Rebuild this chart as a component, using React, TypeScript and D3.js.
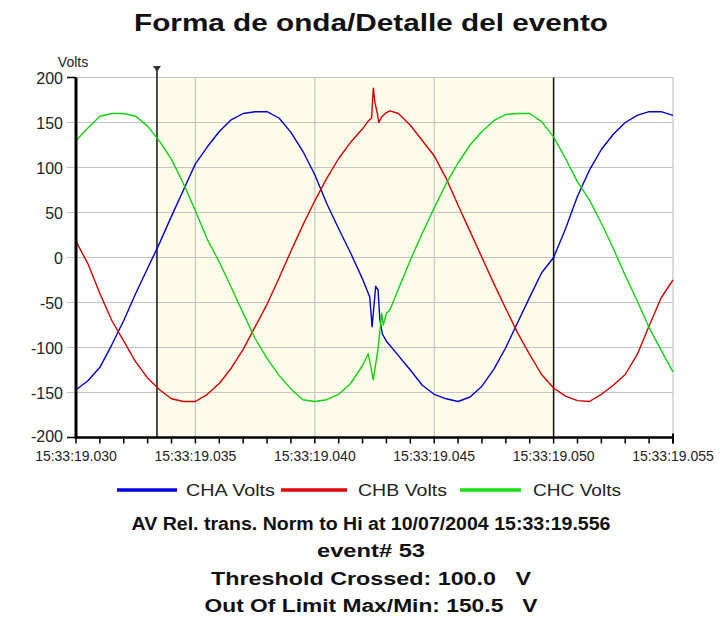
import React from "react";
import * as d3 from "d3";

// ---- data (time in ms after 15:33:19.000, value in volts) ----
const chaVolts: [number, number][] = [
  [30.0, -147], [30.5, -137], [31.0, -122], [31.5, -97], [32.0, -70], [32.5, -40],
  [33.0, -12], [33.5, 16], [34.0, 46], [34.5, 75], [35.0, 104], [35.5, 123],
  [36.0, 140], [36.5, 153], [37.0, 160], [37.5, 162], [38.0, 162], [38.5, 155],
  [39.0, 139], [39.5, 118], [40.0, 92], [40.5, 60], [41.0, 32], [41.5, 5],
  [42.0, -24], [42.3, -44], [42.4, -77], [42.55, -32], [42.65, -36], [42.72, -68],
  [42.83, -85], [43.0, -93], [43.5, -109], [44.0, -125], [44.5, -142], [45.0, -152],
  [45.5, -157], [46.0, -160], [46.5, -155], [47.0, -143], [47.5, -124], [48.0, -100],
  [48.5, -72], [49.0, -44], [49.5, -17], [50.0, 0], [50.5, 32], [51.0, 68],
  [51.5, 97], [52.0, 120], [52.5, 137], [53.0, 150], [53.5, 158], [54.0, 162],
  [54.5, 162], [55.0, 158],
];

const chbVolts: [number, number][] = [
  [30.0, 18], [30.5, -7], [31.0, -40], [31.5, -70], [32.0, -93], [32.5, -116],
  [33.0, -134], [33.5, -147], [34.0, -157], [34.5, -160], [35.0, -160], [35.5, -152],
  [36.0, -140], [36.5, -123], [37.0, -102], [37.5, -77], [38.0, -52], [38.5, -23],
  [39.0, 7], [39.5, 36], [40.0, 63], [40.5, 88], [41.0, 110], [41.5, 128],
  [42.0, 143], [42.25, 152], [42.38, 155], [42.45, 188], [42.52, 172], [42.62, 160],
  [42.68, 150], [42.8, 156], [43.0, 161], [43.15, 163], [43.5, 160], [44.0, 147],
  [44.5, 130], [45.0, 113], [45.5, 88], [46.0, 58], [46.5, 29], [47.0, 0],
  [47.5, -29], [48.0, -57], [48.5, -84], [49.0, -108], [49.5, -130], [50.0, -145],
  [50.5, -154], [51.0, -159], [51.5, -160], [52.0, -152], [52.5, -142], [53.0, -130],
  [53.5, -108], [54.0, -76], [54.5, -45], [55.0, -25],
];

const chcVolts: [number, number][] = [
  [30.0, 130], [30.5, 144], [31.0, 157], [31.5, 160], [32.0, 160], [32.5, 157],
  [33.0, 146], [33.5, 129], [34.0, 109], [34.5, 82], [35.0, 52], [35.5, 20],
  [36.0, -5], [36.5, -33], [37.0, -62], [37.5, -90], [38.0, -112], [38.5, -131],
  [39.0, -146], [39.5, -158], [40.0, -160], [40.5, -158], [41.0, -152], [41.5, -140],
  [42.0, -120], [42.24, -107], [42.45, -136], [42.66, -99], [42.8, -62], [42.87, -75],
  [43.0, -62], [43.15, -58], [43.5, -35], [44.0, -3], [44.5, 27], [45.0, 55],
  [45.5, 82], [46.0, 105], [46.5, 125], [47.0, 140], [47.5, 152], [48.0, 159],
  [48.5, 160], [49.0, 160], [49.5, 151], [50.0, 134], [50.5, 110], [51.0, 84],
  [51.5, 64], [52.0, 38], [52.5, 10], [53.0, -20], [53.5, -48], [54.0, -78],
  [54.5, -103], [55.0, -127],
];

const seriesNames = ["CHA Volts", "CHB Volts", "CHC Volts"];
const seriesColors = ["#0000c8", "#d00000", "#10d010"];
const legendColors = ["#0000e0", "#e00000", "#10e010"];

const xTickValues = [30, 35, 40, 45, 50, 55];
const xTickLabels = [
  "15:33:19.030", "15:33:19.035", "15:33:19.040",
  "15:33:19.045", "15:33:19.050", "15:33:19.055",
];
const yTickValues = [-200, -150, -100, -50, 0, 50, 100, 150, 200];

const cursorStart = 33.39;
const cursorEnd = 50.0;

const titleText = "Forma de onda/Detalle del evento";
const infoLines = [
  "AV Rel. trans. Norm to Hi at 10/07/2004 15:33:19.556",
  "event# 53",
  "Threshold Crossed: 100.0   V",
  "Out Of Limit Max/Min: 150.5   V",
];

// ---- layout ----
const W = 720;
const H = 624;
const left = 76;
const right = 673;
const top = 77.5;
const bottom = 437.5;
const FONT = "'Liberation Sans', Arial, sans-serif";

export default function App() {
  const x = d3.scaleLinear().domain([30, 55]).range([left, right]);
  const y = d3.scaleLinear().domain([-200, 200]).range([bottom, top]);
  const line = d3
    .line<[number, number]>()
    .x((d) => x(d[0]))
    .y((d) => y(d[1]));
  const series = [chaVolts, chbVolts, chcVolts];
  const minorTicks = d3.range(30, 55.5, 1);

  const legendLines = [
    { x1: 117, x2: 177, tx: 186, tw: 89 },
    { x1: 281, x2: 347, tx: 358, tw: 89 },
    { x1: 460, x2: 521, tx: 533, tw: 88 },
  ];
  const infoY = [530, 557, 585, 612];
  const infoW = [479, 108, 320, 333];

  return (
    <svg
      width={W}
      height={H}
      style={{ position: "absolute", left: 0, top: 0, background: "#fff" }}
    >
      <rect x={0} y={0} width={W} height={H} fill="#fff" />
      <text
        x={371}
        y={31}
        textAnchor="middle"
        fontFamily={FONT}
        fontWeight="bold"
        fontSize={24}
        textLength={474}
        lengthAdjust="spacingAndGlyphs"
        fill="#111"
      >
        {titleText}
      </text>

      {/* shaded event window */}
      <rect
        x={x(cursorStart)}
        y={top}
        width={x(cursorEnd) - x(cursorStart)}
        height={bottom - top}
        fill="#fffde9"
      />

      {/* grid */}
      {yTickValues.map((v) => (
        <line
          key={"gy" + v}
          x1={left - 9}
          x2={right}
          y1={y(v)}
          y2={y(v)}
          stroke="#c4c4c4"
          strokeWidth={1.2}
        />
      ))}
      {xTickValues.slice(1).map((t) => (
        <line
          key={"gx" + t}
          x1={x(t)}
          x2={x(t)}
          y1={top}
          y2={bottom}
          stroke="#c4c4c4"
          strokeWidth={1.2}
        />
      ))}

      {/* cursors */}
      <line x1={x(cursorStart)} x2={x(cursorStart)} y1={70} y2={bottom} stroke="#111" strokeWidth={1.5} />
      <line x1={x(cursorEnd)} x2={x(cursorEnd)} y1={top} y2={bottom} stroke="#111" strokeWidth={1.5} />
      <path
        d={`M${x(cursorStart) - 4},66 L${x(cursorStart) + 4},66 L${x(cursorStart)},72 Z`}
        fill="#333"
      />

      {/* series */}
      {series.map((s, i) => (
        <path
          key={seriesNames[i]}
          d={line(s) || ""}
          fill="none"
          stroke={seriesColors[i]}
          strokeWidth={1.4}
          strokeLinejoin="round"
        />
      ))}

      {/* axes */}
      <line x1={left} x2={left} y1={top} y2={bottom + 1} stroke="#000" strokeWidth={3} />
      <line x1={left - 1} x2={right} y1={bottom} y2={bottom} stroke="#000" strokeWidth={2.5} />
      {minorTicks.map((t) => (
        <line
          key={"mt" + t}
          x1={x(t)}
          x2={x(t)}
          y1={bottom}
          y2={bottom + 6}
          stroke="#000"
          strokeWidth={1.5}
        />
      ))}
      <line x1={right} x2={right} y1={bottom - 4} y2={bottom + 6} stroke="#000" strokeWidth={2} />
      <line x1={left - 9} x2={left} y1={top} y2={top} stroke="#000" strokeWidth={1.5} />
      <line x1={left - 9} x2={left} y1={bottom} y2={bottom} stroke="#000" strokeWidth={1.5} />

      {/* y labels */}
      <text x={73} y={67} textAnchor="middle" fontFamily={FONT} fontSize={14} fill="#222">
        Volts
      </text>
      {yTickValues.map((v) => (
        <text
          key={"yl" + v}
          x={63}
          y={y(v) + (v === -200 ? 4 : 6)}
          textAnchor="end"
          fontFamily={FONT}
          fontSize={16}
          fill="#222"
        >
          {v}
        </text>
      ))}

      {/* x labels */}
      {xTickValues.map((t, i) => (
        <text
          key={"xl" + t}
          x={x(t)}
          y={461}
          textAnchor="middle"
          fontFamily={FONT}
          fontSize={14}
          fill="#222"
        >
          {xTickLabels[i]}
        </text>
      ))}

      {/* legend */}
      {legendLines.map((l, i) => (
        <g key={"lg" + i}>
          <line x1={l.x1} x2={l.x2} y1={490} y2={490} stroke={legendColors[i]} strokeWidth={3.5} />
          <text
            x={l.tx}
            y={496}
            fontFamily={FONT}
            fontSize={16}
            textLength={l.tw}
            lengthAdjust="spacingAndGlyphs"
            fill="#222"
          >
            {seriesNames[i]}
          </text>
        </g>
      ))}

      {/* info lines */}
      {infoLines.map((s, i) => (
        <text
          key={"info" + i}
          x={371}
          y={infoY[i]}
          textAnchor="middle"
          fontFamily={FONT}
          fontWeight="bold"
          fontSize={18}
          textLength={infoW[i]}
          lengthAdjust="spacingAndGlyphs"
          style={{ whiteSpace: "pre" }}
          fill="#111"
        >
          {s}
        </text>
      ))}
    </svg>
  );
}
